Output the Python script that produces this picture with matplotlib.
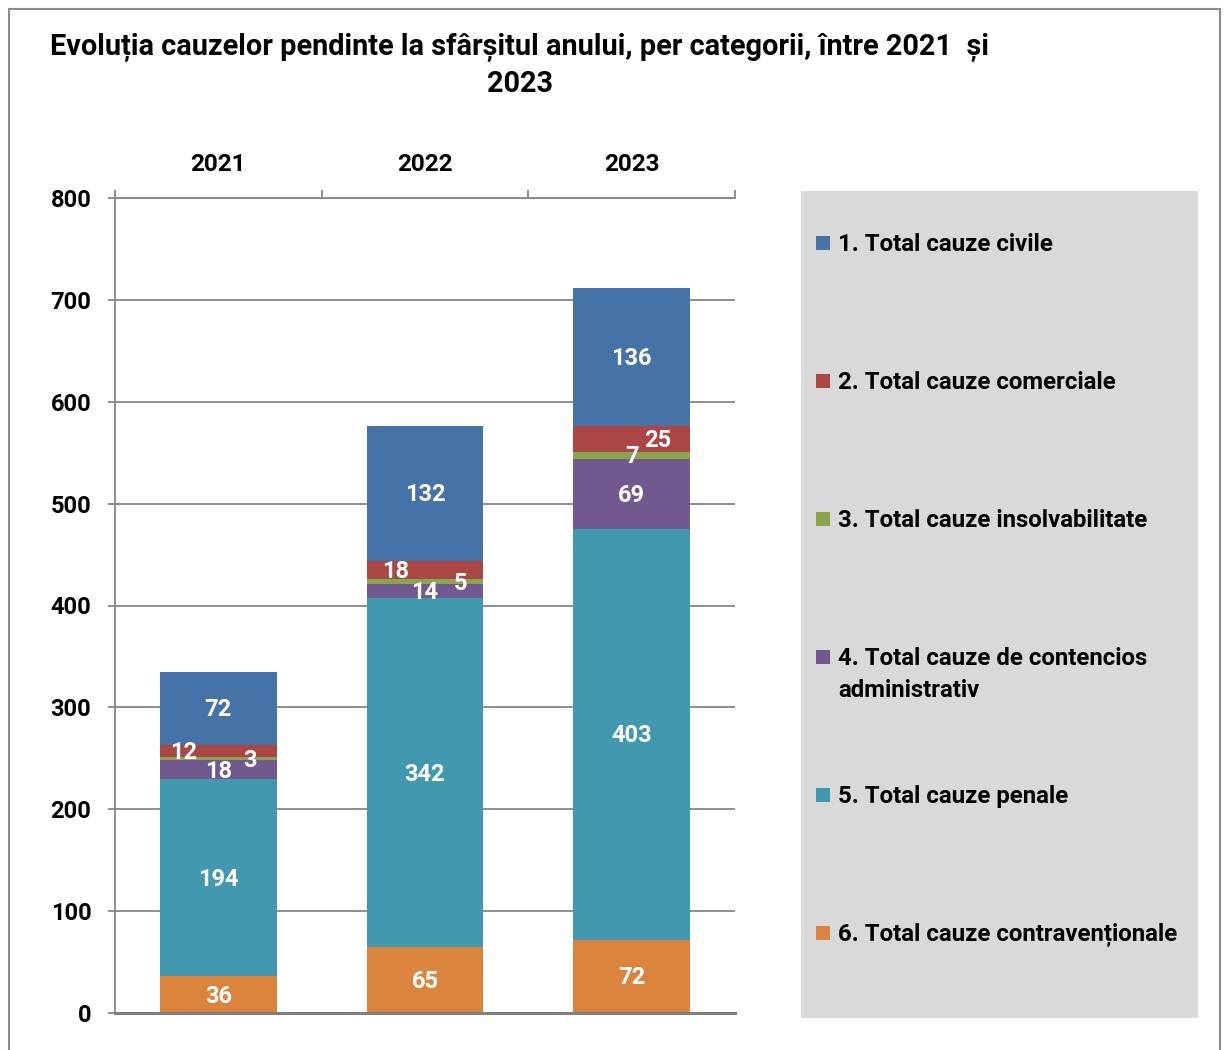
# Evolutia cauzelor pendinte - grafic cu bare stivuite
import numpy as np
import matplotlib.pyplot as plt
from matplotlib.patches import Rectangle

plt.rcParams['font.family'] = ['Roboto', 'DejaVu Sans']
plt.rcParams['font.weight'] = 'bold'

# DATE
ani = ['2021', '2022', '2023']
categorii = ['1. Total cauze civile',
             '2. Total cauze comerciale',
             '3. Total cauze insolvabilitate',
             '4. Total cauze de contencios\nadministrativ',
             '5. Total cauze penale',
             '6. Total cauze contravenționale']
civile = [72, 132, 136]
comerciale = [12, 18, 25]
insolvabilitate = [3, 5, 7]
contencios = [18, 14, 69]
penale = [194, 342, 403]
contraventionale = [36, 65, 72]

culori = ['#4572A7', '#AA4643', '#89A54E', '#71588F', '#4198AF', '#DB843D']

# ordinea de stivuire, de jos in sus
serii = [contraventionale, penale, contencios, insolvabilitate, comerciale, civile]
culori_stiva = culori[::-1]

# deplasari orizontale ale etichetelor mici (seria, an) -> dx
deplasari = {(4, 0): -0.17, (3, 0): 0.155, (4, 1): -0.14, (3, 1): 0.17, (4, 2): 0.125}

fig = plt.figure(figsize=(12.25, 10.5), dpi=100)

# chenar exterior
fig.patches.append(Rectangle((9/1225, -0.05), 1211/1225, 1.05 - 9/1050,
                             transform=fig.transFigure, fill=False,
                             edgecolor='#8C8C8C', linewidth=1.5))

ax = fig.add_axes([115/1225, 37/1050, 620/1225, 815/1050])

x = np.arange(len(ani))
baza = np.zeros(len(ani))
for k, (serie, c) in enumerate(zip(serii, culori_stiva)):
    ax.bar(x, serie, 0.566, bottom=baza, color=c, zorder=3)
    for i, v in enumerate(serie):
        dx = deplasari.get((k, i), 0)
        ax.text(x[i] + dx, baza[i] + v / 2 - 1.5, str(v), ha='center', va='center',
                color='white', fontsize=17, fontweight='bold', zorder=4)
    baza = baza + np.array(serie)

ax.set_xlim(-0.5, 2.5)
ax.set_ylim(0, 800)
ax.set_yticks(range(0, 801, 100))
ax.grid(axis='y', color='#868686', linewidth=1.3, zorder=0)

# axa X sus
ax.xaxis.tick_top()
ax.set_xticks(x)
ax.set_xticklabels(ani, fontsize=17.5, fontweight='bold')
ax.set_xticks([-0.5, 0.5, 1.5, 2.5], minor=True)
ax.tick_params(axis='x', which='major', length=0, pad=16)
ax.tick_params(axis='x', which='minor', length=6, color='#868686', width=1.3)
ax.tick_params(axis='y', length=5, color='#868686', width=1.3, pad=12, labelsize=17)
for t in ax.get_yticklabels():
    t.set_fontweight('bold')

ax.spines['right'].set_visible(False)
ax.spines['top'].set_color('#868686')
ax.spines['top'].set_linewidth(1.3)
ax.spines['left'].set_color('#868686')
ax.spines['left'].set_linewidth(1.3)
ax.spines['bottom'].set_color('#7F7F7F')
ax.spines['bottom'].set_linewidth(2.2)
ax.spines['bottom'].set_zorder(5)

# titlu
fig.text(520/1225, 1 - 47/1050,
         'Evoluția cauzelor pendinte la sfârșitul anului, per categorii, între 2021  și',
         ha='center', va='center', fontsize=20.8, fontweight='bold')
fig.text(520/1225, 1 - 84/1050, '2023', ha='center', va='center',
         fontsize=20.8, fontweight='bold')

# legenda
fig.patches.append(Rectangle((801/1225, 32/1050), 397/1225, 827/1050,
                             transform=fig.transFigure, facecolor='#D9D9D9',
                             edgecolor='none'))
for i, (et, c) in enumerate(zip(categorii, culori)):
    y = 243 + 138 * i
    fig.patches.append(Rectangle((816/1225, 1 - (y + 7) / 1050), 14/1225, 14/1050,
                                 transform=fig.transFigure, facecolor=c,
                                 edgecolor='none'))
    fig.text(838/1225, 1 - (y - 10) / 1050, et, ha='left', va='top',
             fontsize=17.3, fontweight='bold', linespacing=1.52)

fig.savefig('out.png', dpi=100)
